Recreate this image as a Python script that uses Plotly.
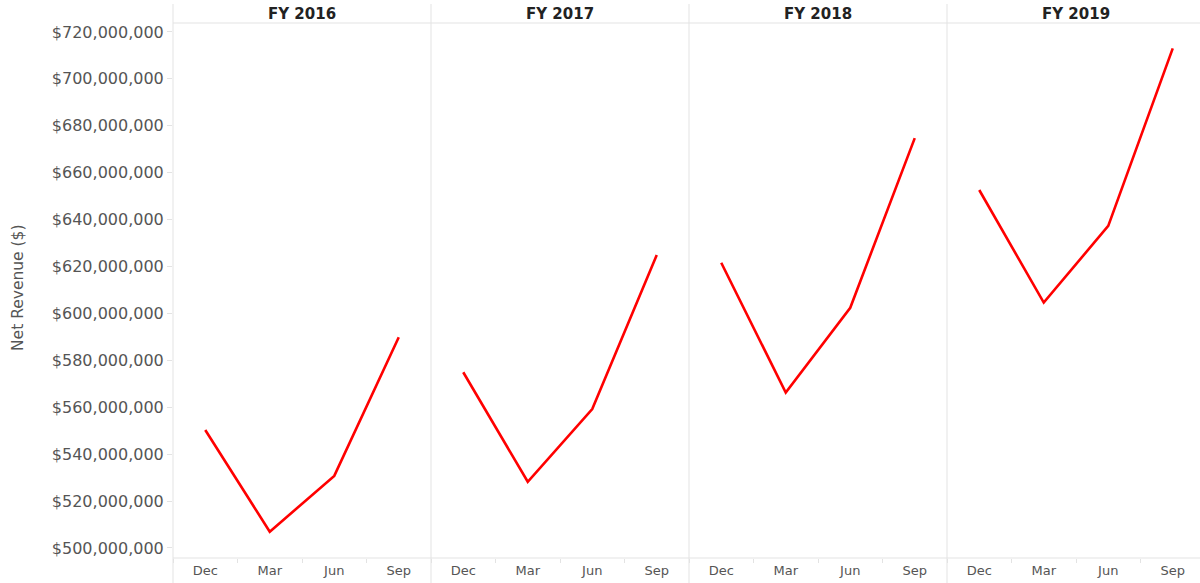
import plotly.graph_objects as go

years = ["FY 2016", "FY 2017", "FY 2018", "FY 2019"]
months = ["Dec", "Mar", "Jun", "Sep"]
rev_2016 = [550.3e6, 506.9e6, 530.7e6, 589.8e6]
rev_2017 = [574.9e6, 528.2e6, 559.2e6, 624.9e6]
rev_2018 = [621.6e6, 566.2e6, 602.4e6, 674.7e6]
rev_2019 = [652.6e6, 604.6e6, 637.3e6, 713.0e6]
series = [rev_2016, rev_2017, rev_2018, rev_2019]
y_ticks = [500e6 + 20e6 * i for i in range(12)]

W, H = 1200, 583
L, R, T, B = 173, 0, 23, 25
PW = W - L - R
PH = H - T - B
panel = 258.0
bounds = [0, panel / PW, 2 * panel / PW, 3 * panel / PW, 1.0]

FONT = "DejaVu Sans"
GRID = "#e3e3e3"

fig = go.Figure()
for i, (yr, vals) in enumerate(zip(years, series)):
    xa = "x" if i == 0 else f"x{i+1}"
    fig.add_trace(go.Scatter(x=months, y=vals, mode="lines", xaxis=xa, yaxis="y",
                             line=dict(color="#ff0000", width=2.6), showlegend=False,
                             hovertemplate="%{x}: $%{y:,.0f}<extra>" + yr + "</extra>"))

layout = dict(
    width=W, height=H, margin=dict(l=L, r=R, t=T, b=B),
    plot_bgcolor="white", paper_bgcolor="white",
    font=dict(family=FONT, color="#555555"),
    yaxis=dict(range=[495.7e6, 723.8e6], tickvals=y_ticks,
               ticktext=["${:,.0f}".format(v) for v in y_ticks],
               showgrid=False, zeroline=False, showline=False,
               ticks="outside", ticklen=5, tickcolor=GRID,
               tickfont=dict(size=16, color="#555555", family=FONT)),
)
for i in range(4):
    key = "xaxis" if i == 0 else f"xaxis{i+1}"
    rng = [-0.5, 3.5] if i < 3 else [-0.5, 3.5 - 5 / 64.5]
    layout[key] = dict(domain=[bounds[i], bounds[i + 1]], anchor="y",
                       type="category", categoryorder="array", categoryarray=months,
                       range=rng, showgrid=False, zeroline=False, showline=False,
                       ticks="outside", tickson="boundaries", ticklen=4, tickcolor=GRID,
                       ticklabelstandoff=3,
                       tickfont=dict(size=13, color="#555555", family=FONT))
fig.update_layout(**layout)

shapes = []
ytop = 1 + 19 / PH
ybot = -B / PH
for b in bounds[:4]:
    shapes.append(dict(type="line", xref="paper", yref="paper", x0=b, x1=b, y0=ybot, y1=ytop,
                       line=dict(color=GRID, width=1)))
shapes.append(dict(type="line", xref="paper", yref="paper", x0=0, x1=1, y0=1, y1=1,
                   line=dict(color=GRID, width=1)))
shapes.append(dict(type="line", xref="paper", yref="paper", x0=0, x1=1, y0=0, y1=0,
                   line=dict(color=GRID, width=1)))
fig.update_layout(shapes=shapes)

annotations = []
for i, yr in enumerate(years):
    cx = (bounds[i] + min(bounds[i] + panel / PW, 1.0 + 5 / PW)) / 2
    annotations.append(dict(text="<b>" + yr + "</b>", xref="paper", yref="paper",
                            x=cx, y=1 + 9 / PH, xanchor="center", yanchor="middle",
                            showarrow=False, font=dict(size=15, color="#222222", family=FONT)))
annotations.append(dict(text="Net Revenue ($)", xref="paper", yref="paper",
                        x=(18 - L) / PW, y=1 - (288 - T) / PH, xanchor="center", yanchor="middle",
                        textangle=-90, showarrow=False,
                        font=dict(size=15.5, color="#555555", family=FONT)))
fig.update_layout(annotations=annotations)

fig.write_html("out.html", config={"displayModeBar": False},
               post_script="document.body.style.margin='0';document.body.style.overflow='hidden';")
